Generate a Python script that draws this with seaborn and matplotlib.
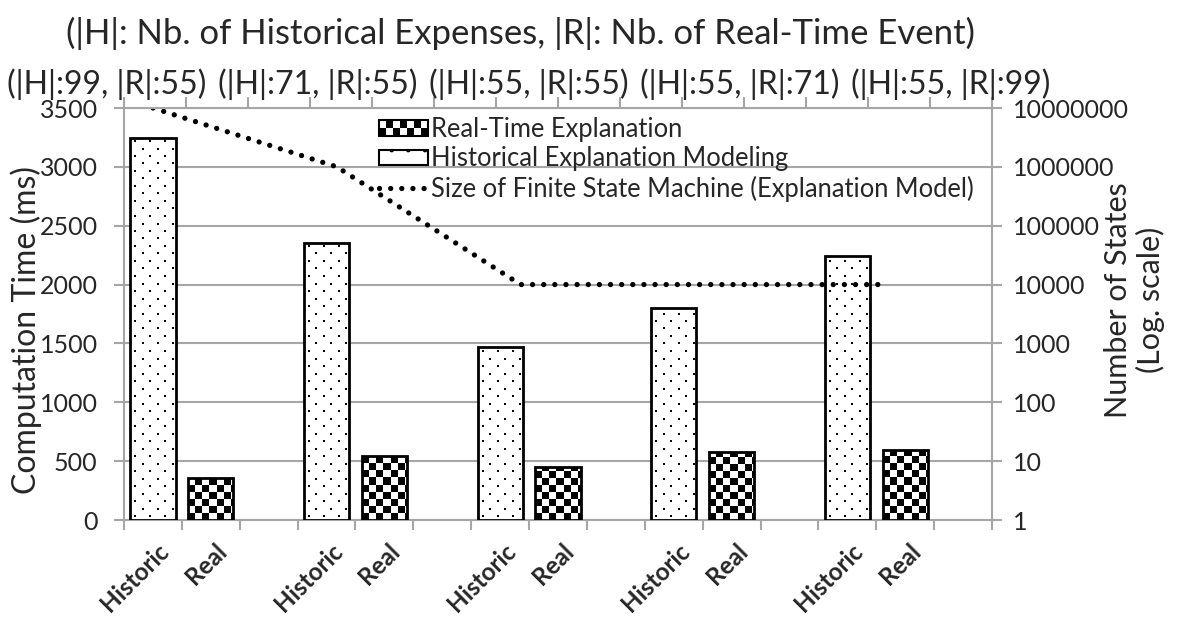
import numpy as np
import pandas as pd
import matplotlib
matplotlib.use("Agg")
import matplotlib.pyplot as plt
import matplotlib.transforms as mtransforms
import seaborn as sns
from matplotlib.patches import Rectangle, Patch
from matplotlib.lines import Line2D
from matplotlib.legend_handler import HandlerBase
from matplotlib.ticker import NullLocator

# data
groups = ["(|H|:99, |R|:55)", "(|H|:71, |R|:55)", "(|H|:55, |R|:55)",
          "(|H|:55, |R|:71)", "(|H|:55, |R|:99)"]
historic_ms = [3245, 2350, 1470, 1800, 2245]
real_ms = [355, 545, 450, 575, 595]
fsm_states = [10000000, 1000000, 10000, 10000, 10000]
bar_labels = ["Historic", "Real"]
series_names = ["Real-Time Explanation", "Historical Explanation Modeling",
                "Size of Finite State Machine (Explanation Model)"]
title = "(|H|: Nb. of Historical Expenses, |R|: Nb. of Real-Time Event)"

GRAY = "#a6a6a6"
DOTS = dict(color="black", lw=3.8, linestyle=(0, (0.01, 2.1)),
            dash_capstyle="round")

sns.set_style("white")
plt.rcParams["font.family"] = ["Lato", "DejaVu Sans"]
plt.rcParams["hatch.linewidth"] = 1.0

# one slot per bar, third slot of each group left empty
rows = []
for i in range(len(groups)):
    rows.append({"slot": 3 * i, "kind": bar_labels[0], "ms": historic_ms[i]})
    rows.append({"slot": 3 * i + 1, "kind": bar_labels[1], "ms": real_ms[i]})
df = pd.DataFrame(rows)
n_slots = 3 * len(groups)

fig, ax = plt.subplots(figsize=(11.78, 6.24), dpi=100)
fig.subplots_adjust(left=124 / 1178, right=992 / 1178,
                    bottom=1 - 520 / 624, top=1 - 108 / 624)

sns.barplot(data=df, x="slot", y="ms", hue="kind", order=list(range(n_slots)),
            hue_order=bar_labels, palette=["white", "white"], dodge=False,
            width=0.78, edgecolor="black", linewidth=2, legend=False, ax=ax,
            zorder=3)
ax.set_xlim(-0.5, n_slots - 0.5)
ax.set_ylim(0, 3500)


def bar_pixels(ax, patch):
    x, y = patch.get_x(), patch.get_y()
    p0 = ax.transData.transform((x, y))
    p1 = ax.transData.transform((x + patch.get_width(), y + patch.get_height()))
    return p0, p1


def checker_fill(ax, patch, cell=7):
    p0, p1 = bar_pixels(ax, patch)
    nx = int(np.ceil((p1[0] - p0[0]) / cell))
    ny = int(np.ceil((p1[1] - p0[1]) / cell))
    board = np.add.outer(np.arange(ny), np.arange(nx)) % 2
    x_end, y_end = ax.transData.inverted().transform(
        (p0[0] + nx * cell, p0[1] + ny * cell))
    im = ax.imshow(board, cmap="gray",
                   extent=(patch.get_x(), x_end, patch.get_y(), y_end),
                   origin="lower", interpolation="nearest", aspect="auto",
                   zorder=3)
    im.set_clip_path(patch)
    patch.set_facecolor("none")
    patch.set_zorder(3.5)


def dot_fill(ax, patch, dx=15, dy=7.5):
    # sparse staggered dots like the Excel "5%" pattern
    p0, p1 = bar_pixels(ax, patch)
    pts = []
    j = 0
    yy = p0[1] + 4
    while yy < p1[1] - 2:
        xx = p0[0] + 5 + (j % 2) * dx / 2
        while xx < p1[0] - 2:
            pts.append((xx, yy))
            xx += dx
        yy += dy
        j += 1
    xy = ax.transData.inverted().transform(np.array(pts))
    sc = ax.scatter(xy[:, 0], xy[:, 1], s=2.2, c="black", marker="s",
                    linewidths=0, zorder=3.2)
    sc.set_clip_path(patch)


for cont, kind in zip(ax.containers, bar_labels):
    for patch in cont:
        if kind == "Historic":
            dot_fill(ax, patch)
        else:
            checker_fill(ax, patch)
ax.set_xlim(-0.5, n_slots - 0.5)
ax.set_ylim(0, 3500)

ax.set_yticks(np.arange(0, 3501, 500))
ax.yaxis.grid(True, color=GRAY, lw=1.5)
ax.set_axisbelow(True)
ax.set_xticks(np.arange(-0.5, n_slots, 1))
ax.set_xticklabels([])
ax.set_xticks(np.arange(n_slots), minor=True)
ax.set_xticklabels((bar_labels + [""]) * len(groups), minor=True,
                   rotation=45, ha="right", va="center",
                   rotation_mode="anchor", fontweight="bold", fontsize=17.5)
ax.tick_params(axis="x", which="major", length=7, width=1.5, color=GRAY,
               direction="out", bottom=True)
ax.tick_params(axis="x", which="minor", length=0, pad=20)
shift = mtransforms.ScaledTranslation(12 / 100, 0, fig.dpi_scale_trans)
for lab in ax.get_xticklabels(minor=True):
    lab.set_transform(lab.get_transform() + shift)
ax.tick_params(axis="y", length=7, width=1.5, color=GRAY, direction="out",
               left=True, labelsize=18, pad=12)
ax.set_xlabel("")
ax.set_ylabel("Computation Time (ms)", fontsize=23)
ax.yaxis.set_label_coords(-0.094, 0.46)
for side in ["left", "bottom"]:
    ax.spines[side].set_color(GRAY)
    ax.spines[side].set_linewidth(1.5)
ax.spines["top"].set_visible(False)
ax.spines["right"].set_visible(False)

# right axis: number of states (log)
ax2 = ax.twinx()
ax2.set_yscale("log")
ax2.set_ylim(1, 1e7)
ax2.set_yticks([10 ** k for k in range(8)])
ax2.set_yticklabels([str(10 ** k) for k in range(8)])
ax2.yaxis.set_minor_locator(NullLocator())
ax2.tick_params(axis="y", length=7, width=1.5, color=GRAY, direction="out",
                labelsize=18, pad=8)
ax2.set_ylabel("Number of States\n(Log. scale)", fontsize=22, linespacing=1.15)
ax2.yaxis.set_label_coords(1.129, 0.534)
for side in ["left", "bottom", "top"]:
    ax2.spines[side].set_visible(False)
ax2.spines["right"].set_color(GRAY)
ax2.spines["right"].set_linewidth(1.5)

# line on its own category axis (top)
ax3 = ax2.twiny()
ax3.set_xlim(-0.158, 4.565)
sns.lineplot(x=np.arange(len(groups)), y=fsm_states, ax=ax3, **DOTS)
ax3.set_xlim(-0.158, 4.565)
ax3.set_ylim(1, 1e7)
ax3.set_xticks(np.linspace(-0.158, 4.565, 15))
ax3.set_xticklabels([])
ax3.tick_params(axis="x", length=8, width=1.5, color=GRAY, direction="out",
                top=True)
ax3.set_xlabel("")
for side in ["left", "bottom", "right"]:
    ax3.spines[side].set_visible(False)
ax3.spines["top"].set_color(GRAY)
ax3.spines["top"].set_linewidth(1.5)

for i, g in enumerate(groups):
    fig.text((107 + i * 211) / 1178, 1 - 84 / 624, g, ha="center",
             va="center", fontsize=23)
fig.text(520 / 1178, 1 - 33 / 624, title, ha="center", va="center",
         fontsize=25)


class CheckerHandler(HandlerBase):
    def create_artists(self, legend, orig_handle, xdescent, ydescent,
                       width, height, fontsize, trans):
        x0, y0 = -xdescent, -ydescent
        arts = [Rectangle((x0, y0), width, height, facecolor="white",
                          lw=0, transform=trans)]
        n = 7
        cw, ch = width / n, height / 2
        for r in range(2):
            for c in range(n):
                if (r + c) % 2 == 0:
                    arts.append(Rectangle((x0 + c * cw, y0 + r * ch), cw, ch,
                                          facecolor="black", lw=0,
                                          transform=trans))
        arts.append(Rectangle((x0, y0), width, height, fill=False,
                              edgecolor="black", lw=1.5, transform=trans))
        return arts


checker_handle = Patch(facecolor="white", edgecolor="black")
dot_handle = Patch(facecolor="white", edgecolor="black", hatch=".", lw=1.5)
line_handle = Line2D([], [], **DOTS)
ax3.legend([checker_handle, dot_handle, line_handle], series_names,
           handler_map={checker_handle: CheckerHandler()},
           loc="upper left", bbox_to_anchor=(379 / 1178, 1 - 117 / 624),
           bbox_transform=fig.transFigure, frameon=False, fontsize=18.4,
           handlelength=1.9, handleheight=0.55, handletextpad=0.15,
           labelspacing=0.17, borderpad=0, borderaxespad=0)

fig.savefig("out.png", dpi=100)
